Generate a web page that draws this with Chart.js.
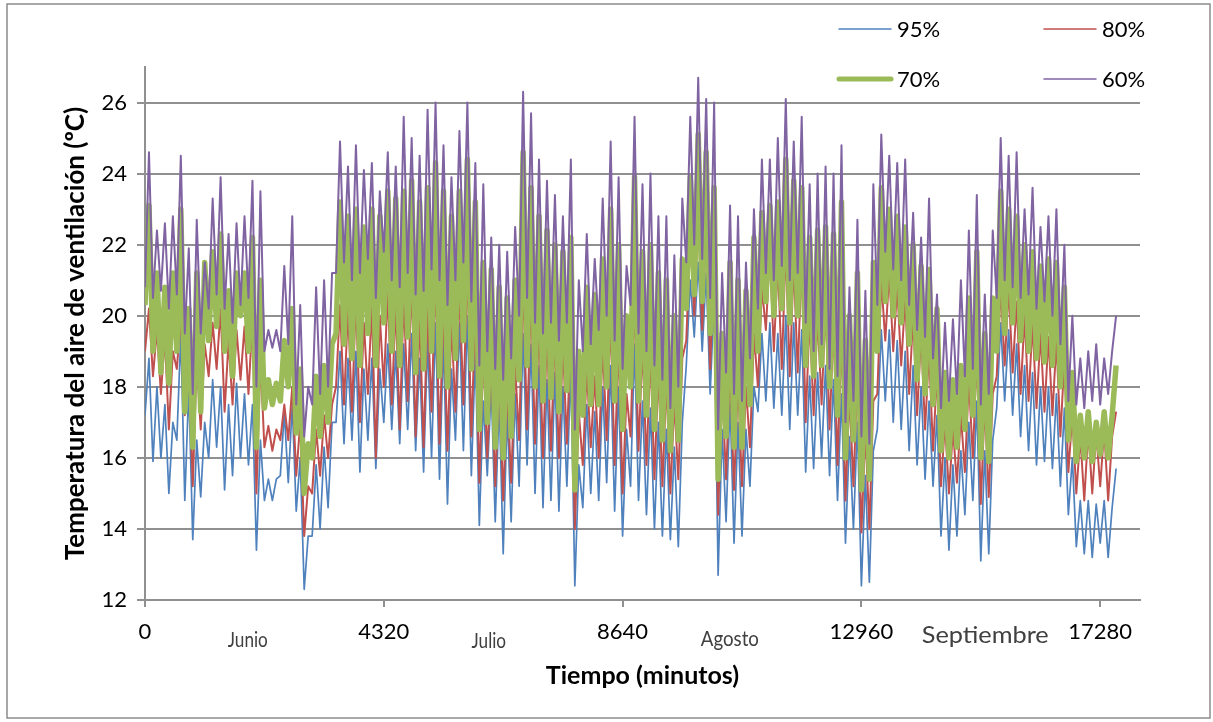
<!DOCTYPE html>
<html lang="es">
<head>
<meta charset="utf-8">
<title>Temperatura del aire de ventilación</title>
<script src="https://cdn.jsdelivr.net/npm/chart.js@4.4.1/dist/chart.umd.min.js"></script>
<style>
  html, body { margin: 0; padding: 0; background: #fff; }
  canvas { display: block; }
</style>
</head>
<body>
<canvas id="grafico" width="1213" height="722"></canvas>
<script>
// Temperatura del aire de ventilación, junio-septiembre.
// Dos muestras por día (mínimo y máximo), una cada 72 minutos de eje.
const PASO = 72;

const ticksTiempo = [0, 4320, 8640, 12960, 17280];
const ticksTemp = [12, 14, 16, 18, 20, 22, 24, 26];
const meses = ["Junio", "Julio", "Agosto", "Septiembre"];
const etiquetas = ["95%", "80%", "70%", "60%"];

const serie95 = [
  17.2,18.8, 15.9,18.0, 16.0,17.5, 15.0,17.0, 16.5,19.5, 14.8,18.0, 13.7,16.5, 14.9,17.0, 16.0,18.2, 16.3,18.0,
  15.1,17.5, 15.5,18.1, 16.0,17.8, 15.8,17.5, 13.4,16.5, 14.8,15.4, 14.8,15.4, 15.5,17.3, 15.3,17.5, 14.5,16.0,
  12.3,13.8, 13.8,15.8, 14.0,16.3, 14.6,17.0, 17.0,19.0, 16.4,18.8, 16.5,19.0, 15.6,18.5, 16.5,18.8, 15.7,18.5,
  17.0,19.2, 16.8,19.0, 16.4,19.2, 16.8,19.5, 16.2,18.8, 15.6,19.3, 16.0,19.8, 15.4,19.3, 14.7,18.5, 16.5,19.8,
  16.2,20.0, 15.5,19.0, 14.1,17.6, 15.5,18.0, 14.2,17.6, 13.3,17.3, 14.2,17.8, 15.2,19.5, 15.8,19.2, 15.0,18.6,
  14.6,18.2, 14.8,18.4, 14.5,18.0, 15.2,18.5, 12.4,15.8, 14.6,17.5, 15.0,17.3, 14.8,18.0, 15.3,18.6, 14.5,18.0,
  13.8,16.8, 15.2,19.2, 14.8,17.6, 14.4,17.4, 14.0,17.0, 13.8,16.8, 13.7,16.3, 13.5,17.0, 18.6,21.0, 19.4,21.5,
  19.0,21.2, 17.8,20.5, 12.7,16.8, 14.2,17.6, 13.6,17.0, 13.8,16.8, 15.2,18.0, 17.3,19.5, 17.6,19.8, 17.4,19.5,
  17.2,20.0, 16.8,19.8, 17.2,19.6, 15.6,18.3, 15.7,18.4, 16.0,18.6, 15.5,18.2, 14.8,17.8, 13.6,16.6, 14.0,17.0,
  12.4,15.5, 12.5,16.2, 16.8,19.6, 17.6,19.6, 17.0,19.3, 16.8,19.0, 16.2,18.6, 15.8,18.0, 15.4,17.6, 15.2,17.2,
  13.8,16.0, 13.4,15.8, 13.8,16.2, 14.4,17.0, 14.8,17.6, 13.1,16.2, 13.3,16.5, 17.4,19.8, 17.6,19.6, 17.2,19.2,
  16.6,18.6, 16.2,18.4, 15.8,18.0, 15.9,18.0, 15.7,17.8, 15.2,17.4, 14.4,16.0, 13.5,14.8, 13.3,14.8, 13.2,14.7,
  13.6,14.8, 13.2,14.6, 15.7
];

const serie80 = [
  19.0,20.2, 18.3,19.6, 17.8,19.4, 16.8,19.0, 18.5,20.0, 17.2,18.8, 15.2,18.8, 16.8,19.2, 18.3,19.8, 18.5,20.2,
  17.3,19.3, 17.5,19.6, 18.2,19.7, 17.8,19.9, 15.0,18.8, 16.3,16.9, 16.2,16.8, 16.5,17.5, 16.5,18.0, 15.5,17.0,
  13.8,15.2, 15.0,16.8, 15.5,17.2, 16.0,17.5, 18.0,20.3, 17.5,20.2, 17.3,20.5, 17.0,19.8, 17.8,20.3, 16.0,20.0,
  18.0,20.7, 17.5,20.3, 16.8,20.5, 17.6,21.0, 16.6,20.0, 16.3,20.2, 17.3,21.2, 16.4,20.3, 16.2,19.8, 17.3,20.8,
  17.5,21.4, 16.6,20.2, 15.3,19.0, 16.0,18.8, 15.2,18.4, 14.8,18.0, 15.3,18.6, 16.5,21.0, 16.8,20.6, 16.4,19.8,
  16.0,19.5, 16.2,19.5, 16.0,19.2, 16.4,19.6, 14.0,17.3, 15.8,18.5, 16.3,18.3, 16.0,19.2, 16.5,20.0, 15.8,19.3,
  15.0,17.8, 16.6,20.5, 16.2,19.2, 15.8,19.0, 15.4,18.5, 15.2,18.2, 15.0,17.6, 15.4,18.8, 19.3,22.2, 20.0,23.0,
  19.6,22.6, 18.5,21.8, 14.4,18.0, 15.4,18.6, 15.1,18.2, 15.2,18.0, 16.3,19.5, 18.0,20.8, 19.6,21.8, 19.0,21.5,
  18.5,22.0, 18.3,21.5, 18.4,21.6, 17.0,20.0, 17.2,20.0, 17.5,20.3, 16.8,19.8, 15.8,19.5, 14.8,17.8, 15.2,18.4,
  13.9,16.8, 14.0,17.6, 17.8,21.0, 19.3,21.2, 19.0,20.8, 18.6,20.5, 17.8,20.0, 17.2,19.5, 16.8,19.0, 16.2,18.4,
  15.2,17.0, 15.0,16.8, 15.3,17.2, 15.6,18.2, 16.0,19.0, 14.7,17.5, 14.9,17.8, 18.3,20.8, 18.6,20.8, 18.4,20.4,
  17.8,20.0, 17.6,19.8, 17.4,19.5, 17.3,19.4, 17.2,19.3, 16.6,18.8, 15.6,17.2, 15.0,16.6, 14.8,16.8, 15.0,16.7,
  15.2,16.8, 14.8,16.6, 17.3
];

const serie70 = [
  20.3,23.1, 19.0,21.2, 18.4,20.8, 18.1,21.2, 19.0,23.0, 17.3,20.2, 16.3,21.2, 17.3,21.5, 19.3,21.8, 19.7,22.3,
  19.0,20.7, 18.3,21.2, 20.0,21.2, 19.0,22.2, 16.3,21.0, 17.4,18.2, 17.5,18.1, 17.6,19.3, 18.0,20.2, 16.7,18.5,
  15.0,16.4, 16.0,18.3, 16.6,18.6, 17.0,19.2, 19.5,23.2, 19.2,22.8, 18.8,23.0, 18.6,22.5, 19.5,23.0, 18.6,22.8,
  19.8,23.5, 19.0,23.3, 18.6,23.5, 19.4,23.8, 18.4,23.2, 18.5,23.6, 19.0,24.3, 18.3,23.5, 18.0,22.8, 18.8,23.5,
  19.3,24.4, 18.5,23.2, 16.8,21.5, 17.0,21.3, 16.3,20.8, 16.0,20.5, 16.6,21.0, 18.2,24.6, 18.6,23.6, 18.0,22.8,
  17.6,22.4, 17.7,22.0, 17.3,21.8, 17.9,22.2, 15.1,19.0, 17.2,20.8, 17.5,20.6, 17.5,21.6, 18.0,23.0, 17.6,22.0,
  16.8,20.0, 18.0,23.9, 17.6,21.8, 17.2,22.0, 16.8,21.2, 16.5,21.0, 16.2,20.0, 16.5,21.6, 20.2,23.9, 20.6,25.1,
  20.4,24.6, 19.5,23.6, 15.4,19.5, 16.6,21.5, 16.3,21.0, 16.3,20.7, 17.5,22.2, 19.0,22.9, 20.4,23.1, 20.0,23.2,
  20.2,24.4, 19.8,23.8, 20.0,23.6, 18.6,22.2, 18.3,22.4, 18.6,22.5, 18.0,22.3, 17.2,23.2, 16.0,20.0, 16.5,21.2,
  15.1,19.3, 15.4,21.5, 19.0,23.6, 20.4,23.0, 20.0,22.8, 19.8,22.5, 19.2,22.0, 18.2,21.4, 17.8,21.3, 17.5,20.2,
  16.2,18.4, 16.0,18.2, 16.3,18.6, 16.8,20.5, 17.2,21.8, 16.0,19.5, 15.9,20.5, 19.0,23.5, 19.5,23.0, 19.8,22.8,
  19.3,22.0, 19.0,21.8, 18.8,21.4, 18.7,21.6, 18.6,21.5, 18.0,20.8, 16.5,18.4, 15.9,17.2, 16.0,17.3, 15.9,17.0,
  16.1,17.3, 16.0,17.2, 18.6
];

const serie60 = [
  20.8,24.6, 20.5,22.4, 20.7,22.6, 20.2,22.8, 20.6,24.5, 19.5,21.9, 17.8,22.7, 19.5,21.5, 20.2,23.3, 20.6,23.9,
  20.2,22.3, 19.8,22.6, 20.3,22.8, 20.5,23.8, 18.0,23.5, 19.0,19.6, 19.1,19.6, 19.0,21.4, 19.2,22.8, 17.5,20.3,
  16.6,18.0, 17.5,20.8, 17.8,21.0, 18.0,21.2, 21.2,24.9, 21.5,24.2, 21.0,24.8, 21.2,24.1, 21.6,24.3, 20.5,23.5,
  21.8,24.6, 21.0,24.2, 20.8,25.6, 21.2,25.0, 20.6,24.5, 20.7,25.8, 21.3,26.0, 21.0,24.8, 20.3,23.9, 21.0,25.2,
  21.5,26.0, 20.4,24.3, 18.6,23.7, 19.0,22.2, 18.5,22.0, 18.2,21.8, 18.8,22.5, 20.0,26.3, 20.5,25.7, 19.8,24.4,
  19.5,23.8, 19.8,23.4, 19.3,22.8, 19.8,24.4, 16.8,21.0, 19.0,22.3, 19.2,21.6, 19.6,23.3, 20.0,24.9, 19.3,23.9,
  18.5,21.4, 20.3,25.6, 19.5,23.7, 19.0,24.0, 18.6,22.8, 18.2,22.8, 17.4,21.7, 18.0,23.3, 21.5,25.6, 22.0,26.7,
  21.6,26.1, 20.5,26.0, 16.8,21.2, 18.4,23.1, 17.8,22.8, 17.6,21.5, 18.8,23.0, 20.2,24.4, 21.2,24.4, 21.0,25.0,
  21.4,26.1, 21.0,24.9, 21.2,25.6, 19.8,23.7, 19.0,24.0, 19.2,24.2, 18.5,24.0, 18.3,24.8, 17.0,20.8, 17.6,22.7,
  16.6,20.7, 16.4,23.7, 20.3,25.1, 21.8,24.5, 21.3,24.3, 21.0,24.4, 20.3,22.9, 19.6,22.2, 19.4,23.3, 18.8,20.6,
  17.4,19.8, 17.6,19.9, 17.8,21.0, 18.3,22.4, 18.5,23.4, 17.5,20.6, 17.8,22.4, 20.5,25.0, 21.0,24.5, 20.8,24.6,
  20.5,23.0, 20.6,23.6, 20.2,22.5, 20.4,22.8, 20.0,23.0, 19.2,22.0, 17.6,20.0, 17.5,18.8, 17.4,19.0, 17.6,19.2,
  17.5,18.8, 17.8,19.0, 20.0
];

const AZUL = "#4F81BD";
const ROJO = "#C0504D";
const VERDE = "#9BBB59";
const MORADO = "#8064A2";
const GRIS = "#909090";
const FUENTE = "Lato, 'Open Sans', sans-serif";

function puntos(valores) {
  return valores.map((v, i) => ({ x: i * PASO, y: v }));
}

// Marco exterior del gráfico
const marco = {
  id: "marco",
  beforeDraw(chart) {
    const { ctx } = chart;
    ctx.save();
    ctx.fillStyle = "#fff";
    ctx.fillRect(0, 0, chart.width, chart.height);
    ctx.strokeStyle = "#8c8c8c";
    ctx.lineWidth = 1.5;
    ctx.strokeRect(7, 4, 1203, 714);
    ctx.restore();
  },
};

// Leyenda en dos columnas arriba a la derecha
const leyenda = {
  id: "leyenda",
  afterDraw(chart, args, opts) {
    const { ctx } = chart;
    ctx.save();
    ctx.font = `22px ${FUENTE}`;
    ctx.textBaseline = "middle";
    ctx.fillStyle = "#000";
    opts.items.forEach((it) => {
      const ds = chart.data.datasets[it.ds];
      ctx.strokeStyle = ds.borderColor;
      ctx.lineWidth = it.grosor;
      ctx.lineCap = "round";
      ctx.beginPath();
      ctx.moveTo(it.x, it.y);
      ctx.lineTo(it.x + 52, it.y);
      ctx.stroke();
      ctx.fillText(ds.label, it.x + 58, it.y + 1);
    });
    ctx.restore();
  },
};

// Nombres de los meses bajo el eje de tiempo
const rotulosMes = {
  id: "rotulosMes",
  afterDraw(chart, args, opts) {
    const { ctx } = chart;
    const x = chart.scales.x;
    ctx.save();
    ctx.fillStyle = "#404040";
    ctx.textAlign = "center";
    ctx.textBaseline = "middle";
    opts.items.forEach((m) => {
      ctx.save();
      ctx.font = `${m.size}px ${FUENTE}`;
      ctx.translate(x.getPixelForValue(m.en), m.y);
      ctx.scale(m.ancho, 1);
      ctx.fillText(meses[m.mes], 0, 0);
      ctx.restore();
    });
    ctx.restore();
  },
};

new Chart(document.getElementById("grafico"), {
  type: "line",
  data: {
    datasets: [
      { label: etiquetas[0], data: puntos(serie95), borderColor: AZUL, borderWidth: 1.7, order: 4 },
      { label: etiquetas[1], data: puntos(serie80), borderColor: ROJO, borderWidth: 2, order: 3 },
      { label: etiquetas[2], data: puntos(serie70), borderColor: VERDE, borderWidth: 5.5, order: 2 },
      { label: etiquetas[3], data: puntos(serie60), borderColor: MORADO, borderWidth: 2, order: 1 },
    ],
  },
  options: {
    responsive: false,
    animation: false,
    layout: { padding: { left: 0, right: 73, top: 67, bottom: 0 } },
    elements: {
      point: { radius: 0 },
      line: { tension: 0, borderJoinStyle: "round", fill: false },
    },
    scales: {
      x: {
        type: "linear",
        min: 0,
        max: 18000,
        afterBuildTicks: (s) => { s.ticks = ticksTiempo.map((v) => ({ value: v })); },
        afterFit: (s) => { s.height = 122; },
        grid: { drawOnChartArea: false, tickLength: 7, color: GRIS, lineWidth: 2 },
        border: { color: GRIS, width: 2 },
        ticks: {
          callback: (v) => String(v),
          font: { family: FUENTE, size: 22 },
          color: "#000",
          padding: 12,
          maxRotation: 0,
          autoSkip: false,
        },
        title: {
          display: true,
          text: "Tiempo (minutos)",
          font: { family: FUENTE, size: 25, weight: "bold" },
          color: "#000",
          padding: { top: 0, bottom: 31 },
        },
      },
      y: {
        min: 12,
        max: 27,
        afterBuildTicks: (s) => { s.ticks = ticksTemp.map((v) => ({ value: v })); },
        afterFit: (s) => { s.width = 145; },
        grid: { color: GRIS, lineWidth: 2, tickLength: 8 },
        border: { color: GRIS, width: 2 },
        ticks: {
          callback: (v) => String(v),
          font: { family: FUENTE, size: 22 },
          color: "#000",
          padding: 10,
        },
        title: {
          display: true,
          text: "Temperatura del aire de ventilación (ºC)",
          font: { family: FUENTE, size: 26, weight: "bold" },
          color: "#000",
          padding: { top: 60, bottom: 0 },
        },
      },
    },
    plugins: {
      legend: { display: false },
      tooltip: { enabled: false },
      leyenda: {
        items: [
          { ds: 0, x: 839, y: 29, grosor: 1.5 },
          { ds: 1, x: 1044, y: 29, grosor: 1.5 },
          { ds: 2, x: 839, y: 79, grosor: 5 },
          { ds: 3, x: 1044, y: 79, grosor: 1.5 },
        ],
      },
      rotulosMes: {
        items: [
          { mes: 0, en: 1860, y: 640, size: 22, ancho: 0.78 },
          { mes: 1, en: 6220, y: 641, size: 22, ancho: 0.78 },
          { mes: 2, en: 10580, y: 639, size: 22, ancho: 0.85 },
          { mes: 3, en: 15200, y: 636, size: 23, ancho: 1.1 },
        ],
      },
    },
  },
  plugins: [marco, leyenda, rotulosMes],
});
</script>
</body>
</html>
